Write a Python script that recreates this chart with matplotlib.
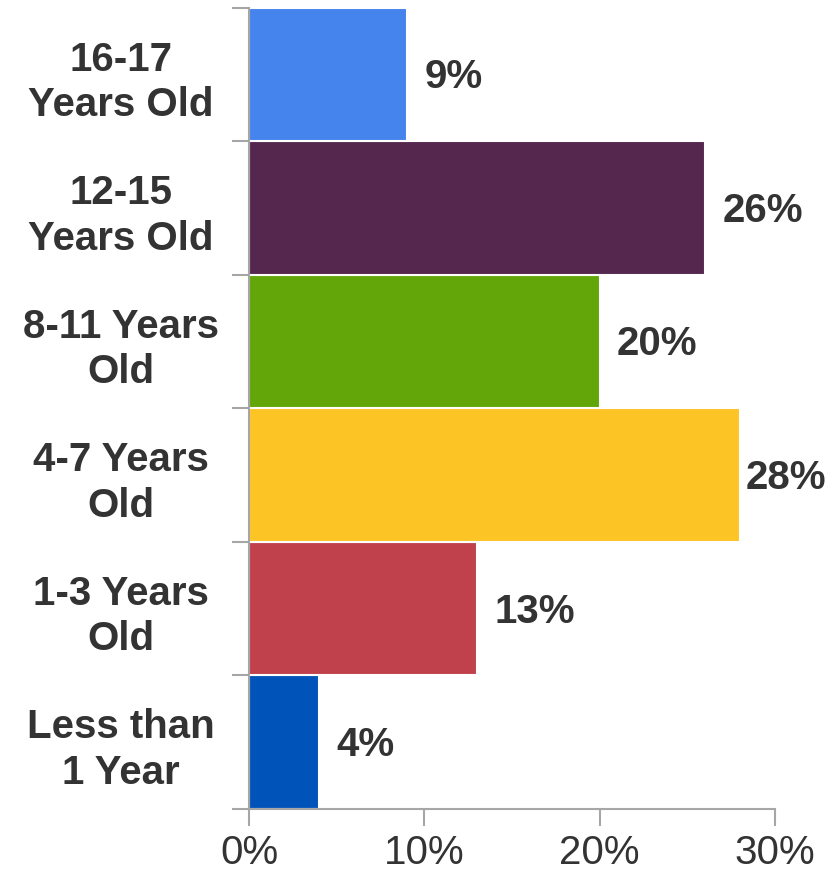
import matplotlib.pyplot as plt
import numpy as np

# bottom to top
categories = ["Less than\n1 Year", "1-3 Years\nOld", "4-7 Years\nOld",
              "8-11 Years\nOld", "12-15\nYears Old", "16-17\nYears Old"]
values = [4, 13, 28, 20, 26, 9]
colors = ["#0053B8", "#C0404C", "#FDC426", "#62A60A", "#55264E", "#4584EC"]
xticks = [0, 10, 20, 30]

plt.rcParams["font.family"] = ["Liberation Sans", "DejaVu Sans"]
text_color = "#333333"
axis_color = "#A6A6A6"
fs = 29

fig = plt.figure(figsize=(8.38, 8.73), dpi=100)
ax = fig.add_axes([0.2971, 0.0733, 0.6277, 0.9176])

y = np.arange(len(categories))
ax.barh(y, values, height=1.0, color=colors, edgecolor="white", linewidth=1.5)

for yi, v in zip(y, values):
    # the longest label gets pushed in so it stays on the canvas
    off = 4 if v == max(values) else 12.5
    ax.annotate(f"{v}%", (v, yi), xytext=(off, -2), textcoords="offset points",
                ha="left", va="center", fontsize=fs, fontweight="bold",
                color=text_color)

ax.set_xlim(0, 30)
ax.set_ylim(-0.5, len(categories) - 0.5)

ax.set_xticks(xticks)
ax.set_xticklabels([f"{t}%" for t in xticks], fontsize=fs, color=text_color)
ax.tick_params(axis="x", length=12, width=1.5, color=axis_color, pad=6)

# boundary ticks on y, labels centred on bars
ax.set_yticks(np.arange(-0.5, len(categories), 1.0))
ax.set_yticklabels([])
ax.set_yticks(y, minor=True)
ax.set_yticklabels(categories, minor=True, fontsize=fs, fontweight="bold",
                   color=text_color, ha="center", linespacing=1.25)
ax.tick_params(axis="y", which="major", length=12, width=1.5, color=axis_color)
ax.tick_params(axis="y", which="minor", length=0, pad=92)

for s in ["top", "right"]:
    ax.spines[s].set_visible(False)
for s in ["left", "bottom"]:
    ax.spines[s].set_color(axis_color)
    ax.spines[s].set_linewidth(1.5)

fig.savefig("out.png", dpi=100)
